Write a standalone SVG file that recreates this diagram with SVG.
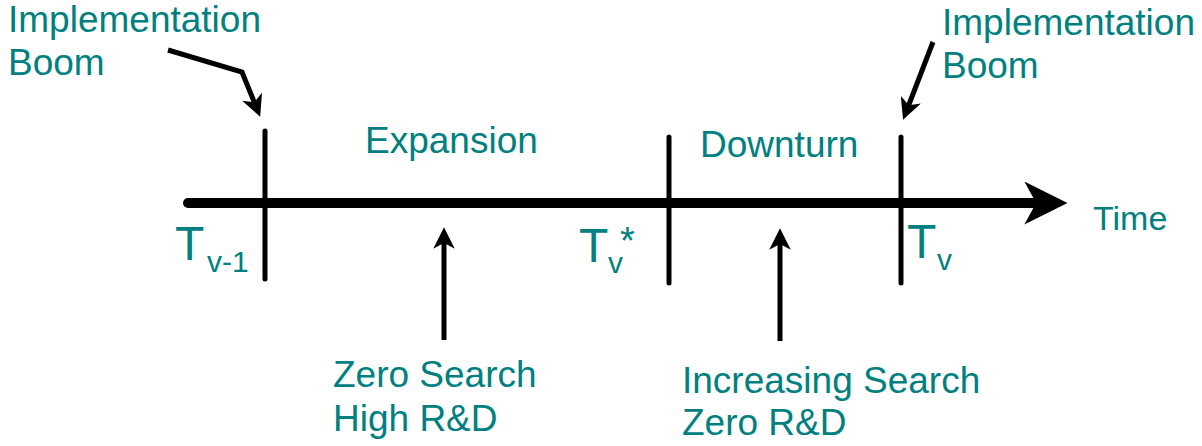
<svg xmlns="http://www.w3.org/2000/svg" width="1202" height="446" viewBox="0 0 1202 446">
  <style>
    .lbl { font-family: "Liberation Sans", Arial, sans-serif; fill: #008080; font-size: 37px; }
    .sym { font-family: "Liberation Sans", Arial, sans-serif; fill: #008080; }
    .tick { stroke: #000; stroke-width: 5; stroke-linecap: round; fill: none; }
    .arr { stroke: #000; stroke-width: 5; fill: none; stroke-linejoin: miter; marker-end: url(#head); }
  </style>
  <defs>
    <marker id="head" viewBox="0 0 22 22" refX="8" refY="11" markerUnits="strokeWidth" markerWidth="4.3" markerHeight="4.3" orient="auto">
      <path d="M0,0 L22,11 L0,22 L6,11 z" fill="#000"/>
    </marker>
  </defs>
  <rect width="1202" height="446" fill="#fff"/>

  <!-- timeline axis, period boundaries and pointer arrows -->
  <g id="connectors">
    <line id="axis" x1="188" y1="203" x2="1040" y2="203" stroke="#000" stroke-width="10" stroke-linecap="round" marker-end="url(#head)"/>
    <line class="tick" x1="265" y1="131" x2="265" y2="279"/>
    <line class="tick" x1="669" y1="137" x2="669" y2="283"/>
    <line class="tick" x1="901" y1="137" x2="901" y2="283"/>
    <polyline class="arr" points="168,50 242,72 255,104"/>
    <line class="arr" x1="933" y1="42" x2="908" y2="107"/>
    <line class="arr" x1="444" y1="340" x2="444" y2="241"/>
    <line class="arr" x1="780" y1="341" x2="780" y2="242"/>
  </g>

  <g id="boom-left">
    <text class="lbl" x="8" y="32">Implementation</text>
    <text class="lbl" x="8" y="75">Boom</text>
  </g>
  <g id="boom-right">
    <text class="lbl" x="942" y="35">Implementation</text>
    <text class="lbl" x="942" y="78">Boom</text>
  </g>
  <g id="expansion">
    <text class="lbl" x="365" y="153">Expansion</text>
  </g>
  <g id="downturn">
    <text class="lbl" x="700" y="157">Downturn</text>
  </g>
  <g id="time">
    <text class="sym" x="1093" y="230" font-size="34">Time</text>
  </g>
  <!-- time marks: T with subscript / superscript set as tspans -->
  <g id="t-prev">
    <text class="sym" x="175" y="260" font-size="48">T<tspan x="207" y="272" font-size="30">v-1</tspan></text>
  </g>
  <g id="t-star">
    <text class="sym" x="579" y="262" font-size="48">T<tspan x="608" y="273" font-size="30">v</tspan><tspan x="620" y="254" font-size="38">*</tspan></text>
  </g>
  <g id="t-curr">
    <text class="sym" x="907" y="258" font-size="48">T<tspan x="937" y="270" font-size="30">v</tspan></text>
  </g>
  <g id="expansion-note">
    <text class="lbl" x="333" y="387">Zero Search</text>
    <text class="lbl" x="333" y="431">High R&amp;D</text>
  </g>
  <g id="downturn-note">
    <text class="lbl" x="682" y="393">Increasing Search</text>
    <text class="lbl" x="682" y="435">Zero R&amp;D</text>
  </g>
</svg>
